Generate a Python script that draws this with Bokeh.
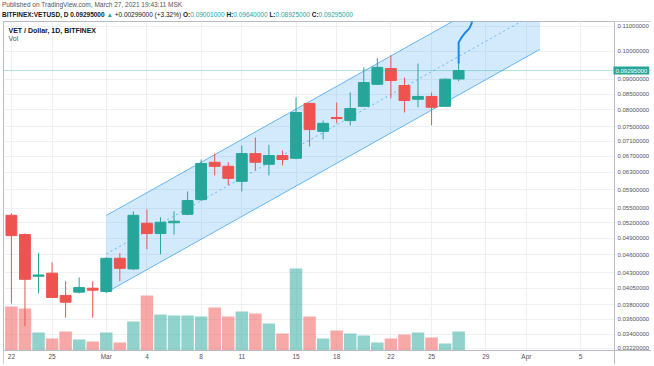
import pandas as pd
from bokeh.plotting import figure
from bokeh.layouts import column
from bokeh.models import (Range1d, LinearScale, FixedTicker, PrintfTickFormatter,
                          Span, Label, ColumnDataSource, BoxAnnotation, Div)
from bokeh.embed import file_html
from bokeh.resources import INLINE

# ---------------- data ----------------
start_date = "2021-02-22"
end_date = "2021-03-27"
opens = [0.0535, 0.0497, 0.0424, 0.0429, 0.0394, 0.0399, 0.0405,
         0.0400, 0.0454, 0.0436, 0.0519, 0.0499, 0.0520, 0.0537, 0.0568,
         0.0655, 0.0645, 0.0609, 0.0677, 0.0650, 0.0672, 0.0665, 0.0820, 0.0737,
         0.0777, 0.0768, 0.0811, 0.0882, 0.0937, 0.0878, 0.0833, 0.0842, 0.0811, 0.09001]
highs = [0.0539, 0.0499, 0.0463, 0.0447, 0.0416, 0.0422, 0.0416,
         0.0456, 0.0463, 0.0543, 0.0547, 0.0531, 0.0543, 0.0586, 0.0662,
         0.0677, 0.0655, 0.0698, 0.0720, 0.0700, 0.0685, 0.0839, 0.0822, 0.0768,
         0.0823, 0.0855, 0.0941, 0.0975, 0.0985, 0.0905, 0.0955, 0.0855, 0.0902, 0.0964]
lows = [0.0382, 0.0350, 0.0397, 0.0390, 0.0362, 0.0397, 0.0362,
        0.0398, 0.0416, 0.0434, 0.0470, 0.0461, 0.0497, 0.0535, 0.0565,
        0.0623, 0.0600, 0.0586, 0.0635, 0.0623, 0.0647, 0.0663, 0.0696, 0.0715,
        0.0760, 0.0754, 0.0810, 0.0880, 0.0836, 0.0792, 0.0808, 0.0754, 0.0810, 0.08925]
closes = [0.0495, 0.0419, 0.0426, 0.0391, 0.0384, 0.0406, 0.0402,
          0.0454, 0.0437, 0.0535, 0.0499, 0.0521, 0.0523, 0.0566, 0.0652,
          0.0645, 0.0616, 0.0677, 0.0655, 0.0672, 0.0662, 0.0792, 0.0742, 0.0760,
          0.0774, 0.0804, 0.0888, 0.0941, 0.0895, 0.0829, 0.0842, 0.0808, 0.08996, 0.09295]
volumes = [44, 42, 18, 12, 19, 11, 9,
           18, 8, 29, 55, 36, 35, 35, 34,
           43, 34, 39, 37, 27, 17, 82, 34, 12,
           20, 17, 15, 8, 12, 16, 18, 13, 7, 19]
volume_range = (-14, 329)

tick_dates = ["2021-02-22", "2021-02-25", "2021-03-01", "2021-03-04", "2021-03-08",
              "2021-03-11", "2021-03-15", "2021-03-18", "2021-03-22", "2021-03-25",
              "2021-03-29", "2021-04-01", "2021-04-05"]
tick_labels = ["22", "25", "Mar", "4", "8", "11", "15", "18", "22", "25", "29", "Apr", "5"]
price_ticks = [0.110, 0.100, 0.090, 0.085, 0.080, 0.075, 0.071, 0.067, 0.063, 0.059,
               0.055, 0.052, 0.049, 0.046, 0.043, 0.0405, 0.038, 0.036, 0.034, 0.0322]
view_start = "2021-02-21 10:00"
axis_date = "2021-04-07 12:00"      # where the price scale begins
view_end = "2021-04-10 05:30"
price_axis_bottom = 0.03195
price_min, price_max = 0.03027, 0.1121

channel_dates = ["2021-03-01", "2021-04-02"]
channel_lower = [0.03985, 0.1008]
channel_upper = [0.05347, 0.1352]
channel_mid = [0.04616, 0.1167]

path_times = ["2021-03-27 00:00", "2021-03-27 00:00", "2021-03-27 04:00", "2021-03-27 12:00",
              "2021-03-27 19:00", "2021-03-27 23:00", "2021-03-28 01:00"]
path_prices = [0.0955, 0.1035, 0.1051, 0.1075, 0.1092, 0.1113, 0.1169]

last_price = 0.09295

UP = "#26a69a"
DOWN = "#ef5350"
FONT = "Liberation Sans"

d0 = pd.Timestamp(start_date)


def day(t):
    return (pd.Timestamp(t) - d0) / pd.Timedelta(days=1)


dates = pd.date_range(start_date, end_date, freq="D")
xs = [day(d) for d in dates]
colors = [UP if c >= o else DOWN for o, c in zip(opens, closes)]
src = ColumnDataSource(dict(
    x=xs, open=opens, high=highs, low=lows, close=closes, vol=volumes,
    top=[max(o, c) for o, c in zip(opens, closes)],
    bottom=[min(o, c) for o, c in zip(opens, closes)],
    color=colors,
))

W, H = 648, 343
p = figure(width=W, height=H, y_axis_type="log", y_axis_location="right",
           x_range=Range1d(day(view_start), day(view_end)),
           y_range=Range1d(price_min, price_max),
           output_backend="svg", toolbar_location=None,
           min_border_left=0, min_border_right=0, min_border_top=0, min_border_bottom=0,
           margin=(0, 0, 0, 3))
p.extra_y_ranges = {"vol": Range1d(*volume_range)}
p.extra_y_scales = {"vol": LinearScale()}

p.background_fill_color = "white"
p.border_fill_color = "white"
p.outline_line_color = "#b8bbc2"
p.outline_line_width = 1

# axes drawn inside the bordered box, like the TradingView price/time scales
xax = p.xaxis[0]
yax = p.yaxis[0]
xax.fixed_location = price_axis_bottom
yax.fixed_location = day(axis_date)
xax.ticker = FixedTicker(ticks=[day(t) for t in tick_dates])
xax.major_label_overrides = {day(t): l for t, l in zip(tick_dates, tick_labels)}
yax.ticker = FixedTicker(ticks=price_ticks)
yax.formatter = PrintfTickFormatter(format="%.8f")
for ax in (xax, yax):
    ax.axis_line_color = "#b8bbc2"
    ax.major_tick_line_color = None
    ax.minor_tick_line_color = None
    ax.major_tick_out = 0
    ax.major_tick_in = 0
    ax.minor_tick_out = 0
    ax.minor_tick_in = 0
    ax.major_label_text_font = FONT
    ax.major_label_text_color = "#50535e"
xax.major_label_text_font_size = "6.5px"
yax.major_label_text_font_size = "6px"
xax.major_label_standoff = 3
yax.major_label_standoff = 3

p.xgrid.grid_line_color = "#eef0f3"
p.ygrid.grid_line_color = "#eef0f3"
p.ygrid.ticker = FixedTicker(ticks=price_ticks)
# keep the scale areas free of grid lines
p.add_layout(BoxAnnotation(left=day(axis_date), fill_color="white", fill_alpha=1,
                           line_color=None, level="underlay"))
p.add_layout(BoxAnnotation(top=price_axis_bottom, fill_color="white", fill_alpha=1,
                           line_color=None, level="underlay"))

# volume
p.vbar(x="x", width=0.92, top="vol", bottom=0, source=src, y_range_name="vol",
       fill_color="color", line_color=None, fill_alpha=0.5)

# channel
cx = [day(t) for t in channel_dates]
p.varea(x=cx, y1=channel_lower, y2=channel_upper, fill_color="#2196f3", fill_alpha=0.2)
p.line(cx, channel_lower, line_color="#64b5f6", line_width=1)
p.line(cx, channel_upper, line_color="#64b5f6", line_width=1)
p.line(cx, channel_mid, line_color="#64b5f6", line_width=1, line_dash="2 3")

# last price line
p.add_layout(Span(location=last_price, dimension="width", line_color=UP,
                  line_alpha=0.35, line_width=1))

# candles
p.segment(x0="x", x1="x", y0="low", y1="high", source=src, line_color="color", line_width=1)
p.vbar(x="x", width=0.8, top="top", bottom="bottom", source=src,
       fill_color="color", line_color="color", line_width=1)

# drawn path
p.line([day(t) for t in path_times], path_prices, line_color="#1e88e5", line_width=2)

# price tag on the price scale
p.add_layout(Label(x=day(axis_date), y=last_price, x_units="data", y_units="data",
                   x_offset=-1,
                   text="0.09295000", text_font=FONT, text_font_size="6px",
                   text_color="white", text_baseline="middle",
                   background_fill_color=UP, padding=2))

# in-chart legend text
p.add_layout(Label(x=5, y=H - 9, x_units="screen", y_units="screen",
                   text="VET / Dollar, 1D, BITFINEX", text_font=FONT, text_font_size="7px",
                   text_font_style="bold", text_color="#131722", text_baseline="middle"))
p.add_layout(Label(x=5, y=H - 17, x_units="screen", y_units="screen",
                   text="Vol", text_font=FONT, text_font_size="7px",
                   text_color="#50535e", text_baseline="middle"))

# header above the chart
teal = f'style="color:{UP}"'
header_html = (
    f'<div style="font-family:\'{FONT}\';font-size:6.5px;line-height:10px;color:#50535e;'
    'white-space:nowrap">'
    'Published on TradingView.com, March 27, 2021 19:43:11 MSK<br>'
    '<span style="color:#131722"><b>BITFINEX:VETUSD, D 0.09295000</b> '
    f'<span {teal}>&#9650;</span> +0.00299000 (+3.32%) '
    f'<b>O:</b><span {teal}>0.09001000</span> '
    f'<b>H:</b><span {teal}>0.09640000</span> '
    f'<b>L:</b><span {teal}>0.08925000</span> '
    f'<b>C:</b><span {teal}>0.09295000</span></span></div>'
)
header = Div(text=header_html, width=650, height=21, margin=(0, 0, 0, 2))

layout = column(header, p, spacing=0)
open("out.html", "w").write(file_html(layout, INLINE))
